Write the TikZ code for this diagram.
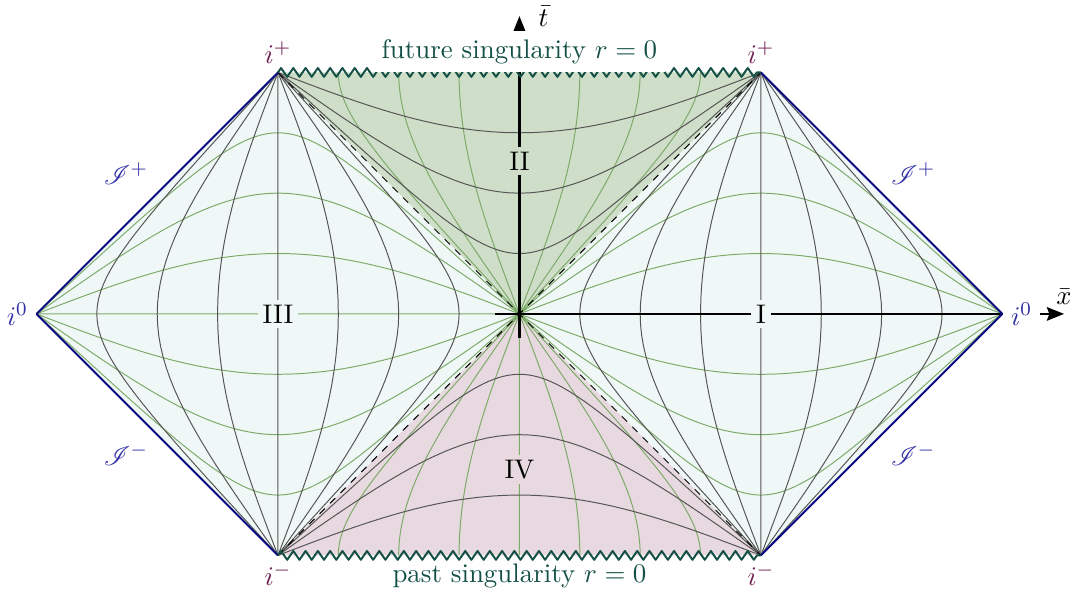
\documentclass[tikz,border=0pt]{standalone}
\usepackage{mathrsfs}
\usetikzlibrary{decorations.pathmorphing,arrows.meta}
\definecolor{regcol}{RGB}{240,248,247}
\definecolor{futcol}{RGB}{207,222,201}
\definecolor{pastcol}{RGB}{231,217,223}
\definecolor{tcol}{RGB}{125,170,105}
\definecolor{rcol}{RGB}{85,85,85}
\definecolor{scricol}{RGB}{10,10,130}
\definecolor{singcol}{RGB}{20,80,70}
\definecolor{icol}{RGB}{110,30,80}
\definecolor{labcol}{RGB}{50,50,165}
\begin{document}
\begin{tikzpicture}[x=0.0383972cm,y=0.0383972cm,>={Stealth[length=7pt,width=5.5pt,inset=1pt]},line join=round,
    font=\fontsize{10.95}{13.6}\selectfont,
    rline/.style={rcol,line width=0.4pt},
    tline/.style={tcol,line width=0.4pt},
    scri/.style={scricol,thick},
    sing/.style={singcol,thick,decorate,decoration={zigzag,segment length=5pt,amplitude=1.8pt}},
    ilab/.style={text=icol},
    reglab/.style={inner sep=2pt}]
  \useasboundingbox (-193.6,-105.1) rectangle (205.2,117.0);
  % corners
  \coordinate (O) at (0,0);
  \coordinate (i0L) at (-180,0); \coordinate (i0R) at (180,0);
  \coordinate (ipL) at (-90,90); \coordinate (ipR) at (90,90);
  \coordinate (imL) at (-90,-90); \coordinate (imR) at (90,-90);
  % regions
  \fill[regcol] (O) -- (ipR) -- (i0R) -- (imR) -- cycle;
  \fill[regcol] (O) -- (ipL) -- (i0L) -- (imL) -- cycle;
  \fill[futcol] (O) -- (ipL) -- (ipR) -- cycle;
  \fill[pastcol] (O) -- (imL) -- (imR) -- cycle;
  % constant t (regions I, III)
  \foreach \k in {-3,...,3}{
    \pgfmathsetmacro\e{tan(45+11.25*\k)}
    \foreach \s in {1,-1}
      \draw[tline] plot[domain=0:89.9,samples=90]
        ({\s*(atan(tan(\x)*\e)+atan(tan(\x)/\e))},{atan(tan(\x)*\e)-atan(tan(\x)/\e)}) -- (\s*180,0);
  }
  % constant t (regions II, IV)
  \foreach \k in {-3,...,3}{
    \pgfmathsetmacro\e{tan(45+11.25*\k)}
    \foreach \s in {1,-1}
      \draw[tline] plot[domain=0:45,samples=40]
        ({atan(tan(\x)*\e)-atan(tan(\x)/\e)},{\s*(atan(tan(\x)*\e)+atan(tan(\x)/\e))});
  }
  % constant r (regions I, III)
  \foreach \k in {1,...,7}{
    \pgfmathsetmacro\r{tan(11.25*\k)}
    \foreach \s in {1,-1}
      \draw[rline] plot[domain=-7:7,samples=141]
        ({\s*(atan(\r*exp(\x))+atan(\r*exp(-\x)))},{atan(\r*exp(\x))-atan(\r*exp(-\x))});
  }
  % constant r (regions II, IV)
  \foreach \k in {1,2,3}{
    \pgfmathsetmacro\r{tan(11.25*\k)}
    \foreach \s in {1,-1}
      \draw[rline] plot[domain=-7:7,samples=141]
        ({atan(\r*exp(\x))-atan(\r*exp(-\x))},{\s*(atan(\r*exp(\x))+atan(\r*exp(-\x)))});
  }
  % horizons
  \draw[dashed,line width=0.4pt] (imL) -- (ipR);
  \draw[dashed,line width=0.4pt] (ipL) -- (imR);
  % axes
  \coordinate (xa) at (-9,0); \coordinate (xb) at (203,0);
  \coordinate (ta) at (0,-9); \coordinate (tb) at (0,111);
  \draw[->,line width=1pt] (xa) -- (xb) node[above] (xlab) {$\bar{x}$};
  \draw[->,line width=1pt] (ta) -- (tb) node[right=4pt] (tlab) {$\bar{t}$};
  % boundaries
  \draw[scri] (i0L) -- (ipL) node[midway,above left,text=labcol] (scripL) {$\mathscr{I}^+$};
  \draw[scri] (i0L) -- (imL) node[midway,below left,text=labcol] (scrimL) {$\mathscr{I}^-$};
  \draw[scri] (i0R) -- (ipR) node[midway,above right,text=labcol] (scripR) {$\mathscr{I}^+$};
  \draw[scri] (i0R) -- (imR) node[midway,below right,text=labcol] (scrimR) {$\mathscr{I}^-$};
  \draw[sing] (ipL) -- (ipR);
  \draw[sing] (imL) -- (imR);
  % labels
  \node[above,fill=white,text=singcol] (futsing) at (0,90) {future singularity $r=0$};
  \node[below,text=singcol] (pastsing) at (0,-90) {past singularity $r=0$};
  \node[ilab,above] (ipLlab) at (ipL) {$i^+$};
  \node[ilab,above] (ipRlab) at (ipR) {$i^+$};
  \node[ilab,below] (imLlab) at (imL) {$i^-$};
  \node[ilab,below] (imRlab) at (imR) {$i^-$};
  \node[left,text=labcol] (i0Llab) at (i0L) {$i^0$};
  \node[right,fill=white,text=labcol] (i0Rlab) at (i0R) {$i^0$};
  \node[reglab,fill=regcol] (regI) at (90,0) {I};
  \node[reglab,fill=futcol] (regII) at (0,57) {II};
  \node[reglab,fill=regcol] (regIII) at (-90,0) {III};
  \node[reglab,fill=pastcol] (regIV) at (0,-58) {IV};
\end{tikzpicture}
\end{document}
